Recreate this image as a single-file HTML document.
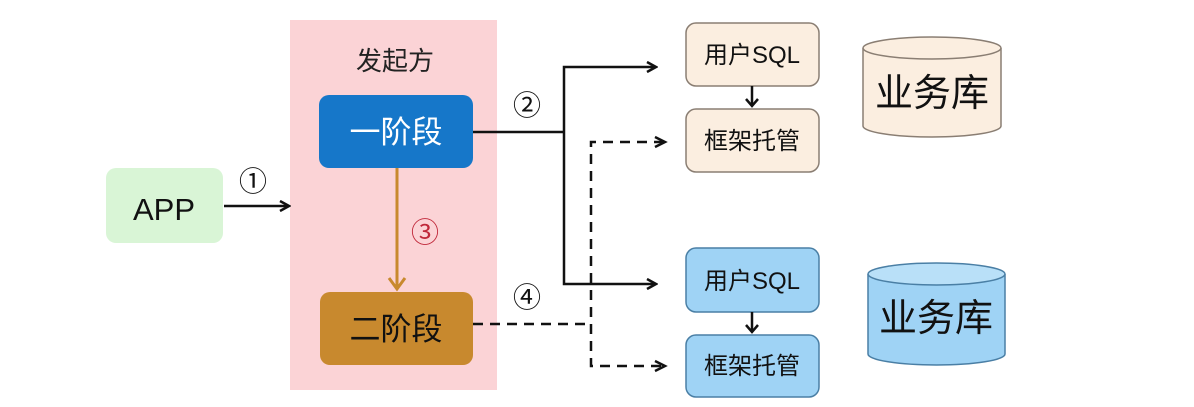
<!DOCTYPE html>
<html><head><meta charset="utf-8"><style>
body{margin:0;background:#fff;width:1194px;height:402px;overflow:hidden;font-family:"Liberation Sans","Noto Sans CJK SC",sans-serif;}
</style></head><body>
<svg width="1194" height="402" xmlns="http://www.w3.org/2000/svg" font-family="Liberation Sans, Noto Sans CJK SC, sans-serif">
<defs>
<marker id="a" markerWidth="12" markerHeight="12" refX="10" refY="6" orient="auto" markerUnits="userSpaceOnUse"><path d="M1,1 L10,6 L1,11" fill="none" stroke="#111" stroke-width="2.5"/></marker>
</defs>
<rect x="290" y="20" width="207" height="370" fill="#fbd3d6"/>
<text x="395" y="70" font-size="26" text-anchor="middle" fill="#222">发起方</text>
<rect x="106" y="168" width="117" height="75" rx="10" fill="#d9f5d6"/>
<text x="164" y="220" font-size="31" text-anchor="middle" fill="#111">APP</text>
<line x1="224" y1="206" x2="289" y2="206" stroke="#111" stroke-width="2.5" marker-end="url(#a)"/>
<text x="253" y="191" font-size="28" text-anchor="middle" fill="#111">①</text>
<rect x="319" y="95" width="154" height="73" rx="10" fill="#1677c9"/>
<text x="396" y="143" font-size="31" text-anchor="middle" fill="#fff">一阶段</text>
<rect x="320" y="292" width="153" height="73" rx="10" fill="#c8892e"/>
<text x="396" y="340" font-size="31" text-anchor="middle" fill="#111">二阶段</text>
<line x1="397" y1="168" x2="397" y2="288" stroke="#c8892e" stroke-width="3"/>
<path d="M389,278 L397,289 L405,278" fill="none" stroke="#c8892e" stroke-width="3"/>
<text x="425" y="242" font-size="28" text-anchor="middle" fill="#c0283a">③</text>
<polyline points="473,132 564,132" fill="none" stroke="#111" stroke-width="2.5"/>
<polyline points="564,132 564,67 656,67" fill="none" stroke="#111" stroke-width="2.5" marker-end="url(#a)"/>
<polyline points="564,132 564,284 656,284" fill="none" stroke="#111" stroke-width="2.5" marker-end="url(#a)"/>
<text x="527" y="115" font-size="28" text-anchor="middle" fill="#111">②</text>
<line x1="473" y1="324" x2="591" y2="324" stroke="#111" stroke-width="2.5" stroke-dasharray="10,7"/>
<polyline points="664,142 591,142 591,366 664,366" fill="none" stroke="#111" stroke-width="2.5" stroke-dasharray="10,7"/>
<path d="M655,137 L665,142 L655,147 M655,361 L665,366 L655,371" fill="none" stroke="#111" stroke-width="2.5"/>
<text x="527" y="307" font-size="28" text-anchor="middle" fill="#111">④</text>
<g stroke="#8a7e73" stroke-width="1.5">
<rect x="686" y="23" width="133" height="63" rx="10" fill="#fbeee0"/>
<rect x="686" y="109" width="133" height="63" rx="10" fill="#fbeee0"/>
<rect x="686" y="248" width="133" height="64" rx="10" fill="#9fd3f5" stroke="#4a7fa5"/>
<rect x="686" y="335" width="133" height="62" rx="10" fill="#9fd3f5" stroke="#4a7fa5"/>
</g>
<g font-size="24" text-anchor="middle" fill="#111">
<text x="752" y="63">用户SQL</text>
<text x="752" y="149">框架托管</text>
<text x="752" y="289">用户SQL</text>
<text x="752" y="374">框架托管</text>
</g>
<g stroke="#111" stroke-width="2.5" fill="none">
<line x1="752" y1="86" x2="752" y2="106"/><path d="M746,99 L752,106 L758,99"/>
<line x1="752" y1="312" x2="752" y2="332"/><path d="M746,325 L752,332 L758,325"/>
</g>
<g stroke="#8a7e73" stroke-width="1.5">
<path d="M863,48 L863,126 A69,11 0 0 0 1001,126 L1001,48" fill="#fbeee0"/>
<ellipse cx="932" cy="48" rx="69" ry="11" fill="#fbeee0"/>
</g>
<g stroke="#4a7fa5" stroke-width="1.5">
<path d="M868,274 L868,354 A68.5,11 0 0 0 1005,354 L1005,274" fill="#9fd3f5"/>
<ellipse cx="936.5" cy="274" rx="68.5" ry="11" fill="#b9e0f8"/>
</g>
<text x="932" y="106" font-size="38" text-anchor="middle" fill="#111">业务库</text>
<text x="936" y="331" font-size="38" text-anchor="middle" fill="#111">业务库</text>
</svg>
</body></html>
